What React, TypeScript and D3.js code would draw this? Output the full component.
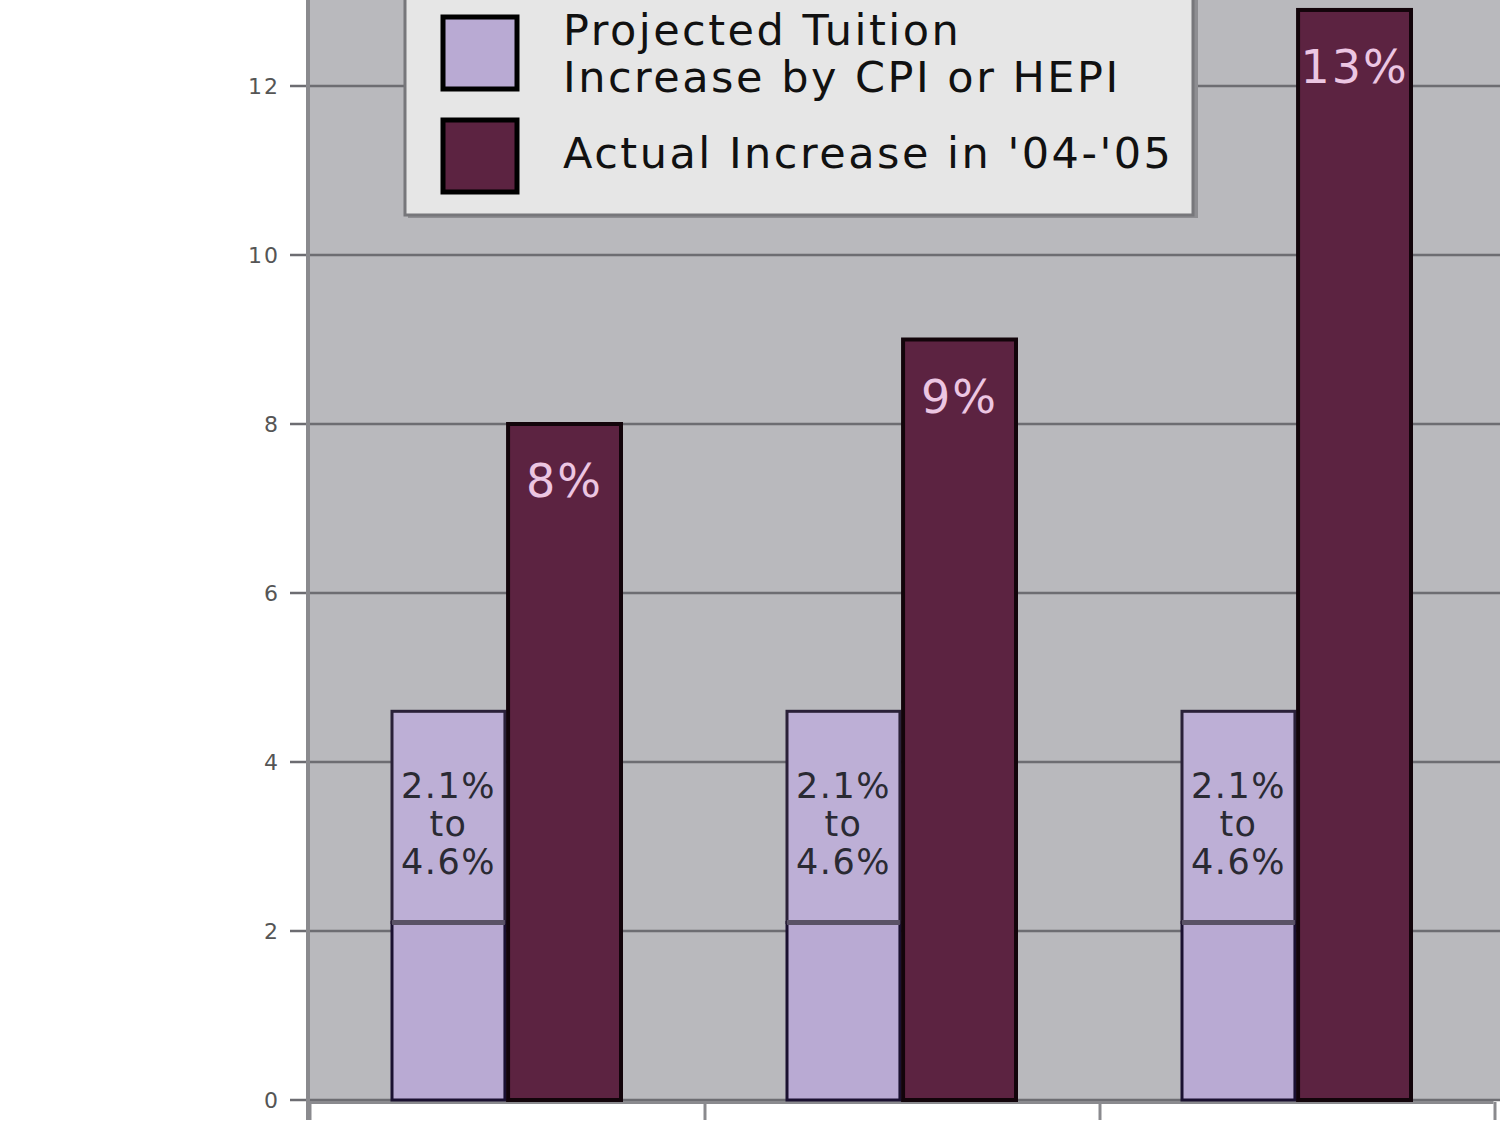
import * as d3 from "d3";
import { useEffect, useRef } from "react";

const width = 1500,
  height = 1125,
  plotLeft = 308,
  plotRight = 1493,
  plotTop = 0,
  plotBottom = 1100;

const groups = ["A", "B", "C"];
const projectedLow = [2.1, 2.1, 2.1];
const projectedHigh = [4.6, 4.6, 4.6];
const actual = [8, 9, 12.9];
const actualLabels = ["8%", "9%", "13%"];
const projectedLabel = ["2.1%", "to", "4.6%"];
const yTicks = [0, 2, 4, 6, 8, 10, 12];
const legendItems = [
  { lines: ["Projected Tuition", "Increase by CPI or HEPI"], color: "#b9aad3" },
  { lines: ["Actual Increase in '04-'05"], color: "#5c2341" },
];

export default function App() {
  const ref = useRef<SVGSVGElement | null>(null);

  useEffect(() => {
    if (!ref.current) return;
    const svg = d3.select(ref.current);
    svg.selectAll("*").remove();

    const y = d3.scaleLinear([0, 13], [plotBottom, plotBottom - 13 * 84.5]);
    const x0 = d3.scaleBand(groups, [plotLeft, plotRight]);
    const x1 = d3.scaleBand(["proj", "actual"], [84, 311]).paddingInner(0.01);

    svg.append("rect").attr("width", width).attr("height", height).attr("fill", "#fff");

    // plot background
    svg
      .append("rect")
      .attr("x", plotLeft)
      .attr("y", plotTop)
      .attr("width", width - plotLeft)
      .attr("height", plotBottom - plotTop)
      .attr("fill", "#b9b9bd");

    // grid lines and y labels
    const yAxis = svg.append("g");
    yAxis
      .selectAll("line")
      .data(yTicks)
      .join("line")
      .attr("x1", 290)
      .attr("x2", width)
      .attr("y1", (d) => y(d))
      .attr("y2", (d) => y(d))
      .attr("stroke", "#6d6d72")
      .attr("stroke-width", 2.5);
    yAxis
      .selectAll("text")
      .data(yTicks)
      .join("text")
      .attr("x", 280)
      .attr("y", (d) => y(d) + 8)
      .attr("text-anchor", "end")
      .attr("font-family", "DejaVu Sans")
      .attr("font-size", 22)
      .attr("letter-spacing", 2)
      .attr("fill", "#555")
      .text((d) => d);

    // left axis line
    svg
      .append("line")
      .attr("x1", plotLeft)
      .attr("x2", plotLeft)
      .attr("y1", 0)
      .attr("y2", plotBottom + 20)
      .attr("stroke", "#8a8a8e")
      .attr("stroke-width", 4);

    // bottom axis
    svg
      .append("g")
      .attr("transform", `translate(0,${plotBottom + 2})`)
      .call(
        d3
          .axisBottom(x0)
          .tickValues([])
          .tickSizeOuter(0)
      )
      .call((g) => g.select(".domain").attr("stroke", "#8a8a8e").attr("stroke-width", 3))
      .call((g) =>
        g
          .selectAll(".tickmark")
          .data(groups.concat(["end"]))
          .join("line")
          .attr("x1", (_, i) => plotLeft + 2 + i * x0.bandwidth())
          .attr("x2", (_, i) => plotLeft + 2 + i * x0.bandwidth())
          .attr("y1", 0)
          .attr("y2", 18)
          .attr("stroke", "#8a8a8e")
          .attr("stroke-width", 3)
      );

    const bars = svg
      .append("g")
      .selectAll("g")
      .data(groups)
      .join("g")
      .attr("transform", (d) => `translate(${x0(d)},0)`);

    // projected: lower segment
    bars
      .append("rect")
      .attr("x", x1("proj")!)
      .attr("width", x1.bandwidth())
      .attr("y", (_, i) => y(projectedLow[i]))
      .attr("height", (_, i) => y(0) - y(projectedLow[i]))
      .attr("fill", "#b9aad3")
      .attr("stroke", "#1a1030")
      .attr("stroke-width", 3);
    // projected: upper segment
    bars
      .append("rect")
      .attr("x", x1("proj")!)
      .attr("width", x1.bandwidth())
      .attr("y", (_, i) => y(projectedHigh[i]))
      .attr("height", (_, i) => y(projectedLow[i]) - y(projectedHigh[i]))
      .attr("fill", "#bdafd6")
      .attr("stroke", "#2a2038")
      .attr("stroke-width", 3);
    bars
      .append("line")
      .attr("x1", x1("proj")!)
      .attr("x2", x1("proj")! + x1.bandwidth())
      .attr("y1", (_, i) => y(projectedLow[i]))
      .attr("y2", (_, i) => y(projectedLow[i]))
      .attr("stroke", "#5a5266")
      .attr("stroke-width", 5);

    // actual
    bars
      .append("rect")
      .attr("x", x1("actual")! + 2)
      .attr("width", x1.bandwidth())
      .attr("y", (_, i) => y(actual[i]))
      .attr("height", (_, i) => y(0) - y(actual[i]))
      .attr("fill", "#5c2341")
      .attr("stroke", "#12040a")
      .attr("stroke-width", 4);

    bars
      .append("text")
      .attr("x", x1("actual")! + 2 + x1.bandwidth() / 2)
      .attr("y", (_, i) => y(actual[i]) + 73)
      .attr("text-anchor", "middle")
      .attr("font-family", "DejaVu Sans")
      .attr("font-size", 46)
      .attr("letter-spacing", 2)
      .attr("fill", "#ecc6e2")
      .text((_, i) => actualLabels[i]);

    bars.each(function () {
      const g = d3.select(this);
      g.append("text")
        .attr("text-anchor", "middle")
        .attr("font-family", "DejaVu Sans")
        .attr("font-size", 35)
        .attr("letter-spacing", 1.5)
        .attr("fill", "#2a2a33")
        .selectAll("tspan")
        .data(projectedLabel)
        .join("tspan")
        .attr("x", x1("proj")! + x1.bandwidth() / 2)
        .attr("y", (_, i) => 798 + i * 38)
        .text((d) => d);
    });

    // legend
    const legend = svg.append("g");
    legend
      .append("rect")
      .attr("x", 408)
      .attr("y", -10)
      .attr("width", 790)
      .attr("height", 228)
      .attr("fill", "#8e8e92");
    legend
      .append("rect")
      .attr("x", 405)
      .attr("y", -10)
      .attr("width", 788)
      .attr("height", 225)
      .attr("fill", "#e6e6e6")
      .attr("stroke", "#77777b")
      .attr("stroke-width", 3);
    const swatchY = [17, 120];
    const textY = [[45, 92], [168]];
    legendItems.forEach((item, i) => {
      legend
        .append("rect")
        .attr("x", 443)
        .attr("y", swatchY[i])
        .attr("width", 74)
        .attr("height", 72)
        .attr("fill", item.color)
        .attr("stroke", "#000")
        .attr("stroke-width", 5);
      item.lines.forEach((line, j) => {
        legend
          .append("text")
          .attr("x", 563)
          .attr("y", textY[i][j])
          .attr("font-family", "DejaVu Sans")
          .attr("font-size", 43)
          .attr("letter-spacing", 2.5)
          .attr("fill", "#111")
          .text(line);
      });
    });
  }, []);

  return (
    <svg
      ref={ref}
      width={width}
      height={height}
      viewBox={`0 0 ${width} ${height}`}
      style={{ position: "absolute", left: 0, top: 0 }}
    />
  );
}
